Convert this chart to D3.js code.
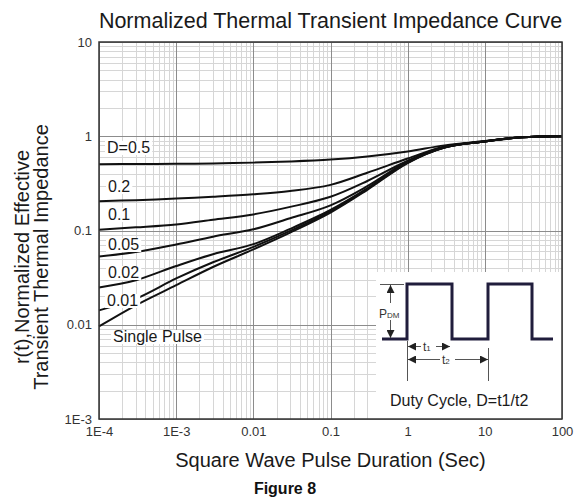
<!DOCTYPE html>
<html>
<head>
<meta charset="utf-8">
<title>Normalized Thermal Transient Impedance Curve</title>
<style>
body { margin:0; background:#fff; }
svg { display:block; font-family: Arial, "Liberation Sans", sans-serif; }
.grid-minor { stroke:#d6d6d6; stroke-width:1; shape-rendering:crispEdges; }
.grid-major { stroke:#8c8c8c; stroke-width:1; shape-rendering:crispEdges; }
.curve { fill:none; stroke:#111; stroke-width:2; }
.axis text { fill:#333; font-size:13px; }
.series-label { fill:#1a1a1a; font-size:16px; }
.inset-line { stroke:#555; stroke-width:1; fill:none; }
</style>
<script src="https://cdn.jsdelivr.net/npm/d3@7"></script>
</head>
<body>
<div id="chart"></div>
<script>
// pulse duration (sec) at which the curves were read
var pulseTimes = [1e-4, 3e-4, 1e-3, 3e-3, 0.01, 0.03, 0.1, 0.3, 1, 3, 10, 30, 100];

// r(t), one array per duty cycle
var dutyHalf   = [0.505, 0.507, 0.51, 0.515, 0.525, 0.54, 0.566, 0.61, 0.69, 0.80, 0.89, 0.975, 1.0];
var dutyFifth  = [0.204, 0.21, 0.218, 0.228, 0.242, 0.262, 0.305, 0.41, 0.58, 0.78, 0.885, 0.975, 1.0];
var dutyTenth  = [0.102, 0.108, 0.116, 0.13, 0.148, 0.178, 0.228, 0.335, 0.55, 0.77, 0.88, 0.975, 1.0];
var duty005    = [0.053, 0.059, 0.071, 0.086, 0.103, 0.135, 0.185, 0.295, 0.54, 0.765, 0.88, 0.975, 1.0];
var duty002    = [0.0249, 0.0297, 0.042, 0.056, 0.0716, 0.104, 0.165, 0.28, 0.53, 0.76, 0.88, 0.975, 1.0];
var duty001    = [0.0142, 0.0189, 0.031, 0.046, 0.067, 0.099, 0.16, 0.275, 0.525, 0.76, 0.88, 0.975, 1.0];
var singlePulse = [0.0096, 0.0161, 0.0263, 0.041, 0.063, 0.095, 0.155, 0.27, 0.52, 0.76, 0.88, 0.975, 1.0];

var seriesNames = ["D=0.5", "0.2", "0.1", "0.05", "0.02", "0.01", "Single Pulse"];
var seriesValues = [dutyHalf, dutyFifth, dutyTenth, duty005, duty002, duty001, singlePulse];

var xTickValues = [1e-4, 1e-3, 0.01, 0.1, 1, 10, 100];
var xTickLabels = ["1E-4", "1E-3", "0.01", "0.1", "1", "10", "100"];
var yTickValues = [1e-3, 0.01, 0.1, 1, 10];
var yTickLabels = ["1E-3", "0.01", "0.1", "1", "10"];

(function () {
    var w = 584, h = 502;
    var left = 99, right = 562, top = 42, bottom = 419;

    // where the curve names sit (x, baseline)
    var labelPos = [[107, 153], [108, 192], [108, 220], [108, 250], [108, 278], [107, 306], [113, 342]];

    var svg = d3.select('#chart').append('svg')
        .attr('width', w)
        .attr('height', h);

    var x = d3.scaleLog().domain([1e-4, 100]).range([left, right]);
    var y = d3.scaleLog().domain([1e-3, 10]).range([bottom, top]);

    var isMajor = d => Math.abs(Math.log10(d) - Math.round(Math.log10(d))) < 1e-9;

    // grid
    var grid = svg.append('g');
    grid.selectAll('.vx').data(x.ticks()).enter().append('line')
        .attr('class', d => isMajor(d) ? 'grid-major' : 'grid-minor')
        .attr('x1', d => Math.round(x(d)) + 0.5).attr('x2', d => Math.round(x(d)) + 0.5)
        .attr('y1', top).attr('y2', bottom);
    grid.selectAll('.hy').data(y.ticks()).enter().append('line')
        .attr('class', d => isMajor(d) ? 'grid-major' : 'grid-minor')
        .attr('y1', d => Math.round(y(d)) + 0.5).attr('y2', d => Math.round(y(d)) + 0.5)
        .attr('x1', left).attr('x2', right);
    // majors on top of minors
    grid.selectAll('.grid-major').raise();

    // curves
    var line = d3.line()
        .x(d => x(d[0]))
        .y(d => y(d[1]))
        .curve(d3.curveCatmullRom.alpha(0.5));

    svg.append('g').selectAll('path')
        .data(seriesValues)
        .enter().append('path')
        .attr('class', 'curve')
        .attr('d', vals => line(pulseTimes.map((t, i) => [t, vals[i]])));

    // curve names with white backing that breaks the lines
    var labels = svg.append('g');
    seriesNames.forEach(function (name, i) {
        var g = labels.append('g');
        var rect = g.append('rect').attr('fill', '#fff');
        var t = g.append('text')
            .attr('class', 'series-label')
            .attr('x', labelPos[i][0])
            .attr('y', labelPos[i][1])
            .text(name);
        var bb = t.node().getBBox();
        rect.attr('x', bb.x - 2).attr('y', bb.y + 2)
            .attr('width', bb.width + 4).attr('height', bb.height - 3);
    });

    // inset with the duty cycle sketch
    var inset = svg.append('g');
    var ix = 376, iy = 272;
    inset.append('rect')
        .attr('x', ix).attr('y', iy)
        .attr('width', right - ix).attr('height', bottom - iy)
        .attr('fill', '#fff');

    var defs = svg.append('defs');
    defs.append('marker')
        .attr('id', 'arr')
        .attr('viewBox', '0 0 10 10')
        .attr('refX', 10).attr('refY', 5)
        .attr('markerWidth', 9).attr('markerHeight', 8)
        .attr('markerUnits', 'userSpaceOnUse')
        .attr('orient', 'auto-start-reverse')
        .append('path').attr('d', 'M0,0L10,5L0,10Z').attr('fill', '#222');

    var lo = 339, hi = 284;
    // waveform
    inset.append('path')
        .attr('d', `M382,${lo}H407V${hi}H452V${lo}H488V${hi}H532V${lo}H553`)
        .attr('fill', 'none')
        .attr('stroke', '#201d3c')
        .attr('stroke-width', 3)
        .attr('stroke-linejoin', 'miter');

    // PDM marker
    inset.append('line').attr('class', 'inset-line')
        .attr('x1', 380).attr('x2', 404).attr('y1', hi + 0.5).attr('y2', hi + 0.5);
    inset.append('line').attr('class', 'inset-line')
        .attr('x1', 390.5).attr('x2', 390.5).attr('y1', hi + 1).attr('y2', lo - 1)
        .attr('marker-start', 'url(#arr)').attr('marker-end', 'url(#arr)');
    inset.append('rect').attr('x', 378).attr('y', 303).attr('width', 26).attr('height', 17).attr('fill', '#fff');
    var pdm = inset.append('text').attr('x', 379).attr('y', 318).attr('fill', '#333').attr('font-size', 12);
    pdm.append('tspan').text('P');
    pdm.append('tspan').attr('font-size', 8).text('DM');

    // t1 / t2 spans
    inset.append('line').attr('class', 'inset-line')
        .attr('x1', 407.5).attr('x2', 407.5).attr('y1', lo + 2).attr('y2', 381);
    inset.append('line').attr('class', 'inset-line')
        .attr('x1', 488.5).attr('x2', 488.5).attr('y1', lo + 9).attr('y2', 381);

    [[346, 450, 't', '1'], [359, 488, 't', '2']].forEach(function (s) {
        var yy = s[0] + 0.5, x2 = s[1];
        inset.append('line').attr('class', 'inset-line')
            .attr('x1', 408).attr('x2', x2).attr('y1', yy).attr('y2', yy)
            .attr('marker-start', 'url(#arr)').attr('marker-end', 'url(#arr)');
        var cx = (408 + x2) / 2;
        inset.append('rect').attr('x', cx - 8).attr('y', yy - 7).attr('width', 15).attr('height', 13).attr('fill', '#fff');
        var tt = inset.append('text').attr('x', cx - 6).attr('y', yy + 4).attr('fill', '#333').attr('font-size', 12);
        tt.append('tspan').text(s[2]);
        tt.append('tspan').attr('font-size', 8).text(s[3]);
    });

    inset.append('text')
        .attr('x', 390).attr('y', 406)
        .attr('fill', '#1a1a1a')
        .attr('font-size', 16)
        .text('Duty Cycle, D=t1/t2');

    // plot border
    svg.append('rect')
        .attr('x', left).attr('y', top)
        .attr('width', right - left).attr('height', bottom - top)
        .attr('fill', 'none')
        .attr('stroke', '#333')
        .attr('stroke-width', 1.5);

    // axes
    var xAxis = svg.append('g').attr('class', 'axis')
        .attr('transform', `translate(0,${bottom})`)
        .call(d3.axisBottom(x).tickValues(xTickValues)
            .tickFormat((d, i) => xTickLabels[i]).tickSize(0).tickPadding(8));
    xAxis.select('.domain').remove();
    xAxis.selectAll('text').attr('font-family', null).attr('font-size', null);

    var yAxis = svg.append('g').attr('class', 'axis')
        .attr('transform', `translate(${left},0)`)
        .call(d3.axisLeft(y).tickValues(yTickValues)
            .tickFormat((d, i) => yTickLabels[i]).tickSize(0).tickPadding(7));
    yAxis.select('.domain').remove();
    yAxis.selectAll('text').attr('font-family', null).attr('font-size', null);

    // titles
    svg.append('text')
        .attr('x', (left + right) / 2).attr('y', 28)
        .attr('text-anchor', 'middle')
        .attr('font-size', 21.5)
        .attr('fill', '#1a1a1a')
        .text('Normalized Thermal Transient Impedance Curve');

    svg.append('text')
        .attr('x', (left + right) / 2).attr('y', 467)
        .attr('text-anchor', 'middle')
        .attr('font-size', 20)
        .attr('fill', '#1a1a1a')
        .text('Square Wave Pulse Duration (Sec)');

    svg.append('text')
        .attr('x', 285).attr('y', 494)
        .attr('text-anchor', 'middle')
        .attr('font-size', 16)
        .attr('font-weight', 'bold')
        .attr('fill', '#111')
        .text('Figure 8');

    var yl = svg.append('g').attr('transform', 'translate(0,257) rotate(-90)');
    yl.append('text').attr('x', 0).attr('y', 29)
        .attr('text-anchor', 'middle').attr('font-size', 20).attr('fill', '#1a1a1a')
        .text('r(t),Normalized Effective');
    yl.append('text').attr('x', 0).attr('y', 48)
        .attr('text-anchor', 'middle').attr('font-size', 20).attr('fill', '#1a1a1a')
        .text('Transient Thermal Impedance');
})();
</script>
</body>
</html>
